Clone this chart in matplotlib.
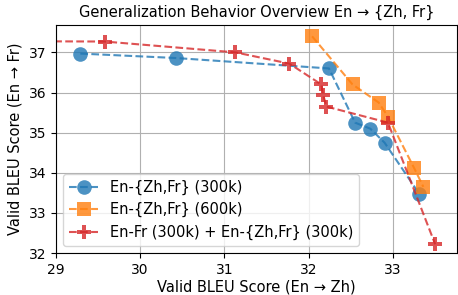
import matplotlib
matplotlib.use("Agg")
import matplotlib.pyplot as plt

# En-{Zh,Fr} (300k)
zh_300k = [29.29, 30.42, 32.24, 32.55, 32.73, 32.90, 33.31]
fr_300k = [36.97, 36.86, 36.60, 35.25, 35.10, 34.75, 33.48]

# En-{Zh,Fr} (600k)
zh_600k = [32.04, 32.52, 32.83, 32.94, 33.25, 33.36]
fr_600k = [37.40, 36.20, 35.75, 35.40, 34.12, 33.65]

# En-Fr (300k) + En-{Zh,Fr} (300k)
zh_mix = [28.20, 29.58, 31.13, 31.77, 32.15, 32.17, 32.21, 32.94, 33.50]
fr_mix = [37.28, 37.27, 37.00, 36.72, 36.20, 35.95, 35.65, 35.25, 32.22]

labels = ["En-{Zh,Fr} (300k)", "En-{Zh,Fr} (600k)", "En-Fr (300k) + En-{Zh,Fr} (300k)"]

fig = plt.figure(figsize=(4.58, 2.95), dpi=100)
ax = fig.add_axes([0.122, 0.142, 0.876, 0.773])

style = dict(alpha=0.8, markersize=10.5, markeredgewidth=0)
ax.plot(zh_300k, fr_300k, "--o", color="#1f77b4", label=labels[0], **style)
ax.plot(zh_600k, fr_600k, "--s", color="#ff7f0e", label=labels[1], **style)
ax.plot(zh_mix, fr_mix, "--P", color="#d62728", label=labels[2], **style)

ax.set_xlim(29, 33.76)
ax.set_ylim(32, 37.68)
ax.grid(True)
ax.tick_params(labelsize=10)
ax.set_title("Generalization Behavior Overview En \u2192 {Zh, Fr}", fontsize=10.5)
ax.set_xlabel("Valid BLEU Score (En \u2192 Zh)", fontsize=10.5, labelpad=2)
ax.set_ylabel("Valid BLEU Score (En \u2192 Fr)", fontsize=10.5)
ax.legend(loc="lower left", fontsize=10.5)

fig.savefig("out.png", dpi=100)
